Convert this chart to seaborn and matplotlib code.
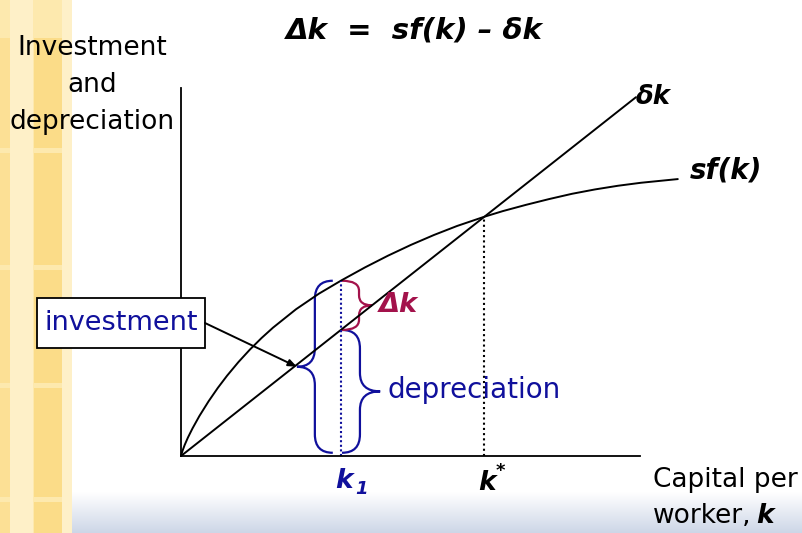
import numpy as np
import matplotlib
matplotlib.use("Agg")
import matplotlib.pyplot as plt
from matplotlib.patches import Rectangle, PathPatch
from matplotlib.path import Path
from matplotlib.colors import LinearSegmentedColormap
import seaborn as sns

# ---------------- data ----------------
k_vals = [0.0, 0.03, 0.08, 0.15, 0.25, 0.4, 0.6, 0.8, 1.0, 1.25, 1.5, 1.75,
          2.0, 2.5, 3.0, 3.5, 4.0, 4.5, 5.0, 5.5, 6.0, 6.59, 7.0, 7.5, 8.0,
          8.5, 9.0, 9.5, 10.0, 10.8]
sf_vals = [0.0, 0.105, 0.24, 0.40, 0.60, 0.87, 1.19, 1.48, 1.744, 2.044, 2.316,
           2.564, 2.79, 3.19, 3.53, 3.825, 4.10, 4.355, 4.59, 4.805, 5.00, 5.20,
           5.325, 5.46, 5.585, 5.70, 5.795, 5.875, 5.94, 6.02]
dk_k = [0.0, 9.89]
dk_y = [0.0, 7.80]
k1 = 3.48
sf_k1 = 3.81
dep_k1 = 2.74
k_star = 6.59
sf_kstar = 5.20

title_text = "Δk  =  sf(k) – δk"
ylabel_lines = ["Investment", "and", "depreciation"]
xlabel_lines = ["Capital per", "worker,"]

BLUE = "#10109c"
RED = "#a3124b"

sns.set_style("white")
plt.rcParams['font.family'] = ['DejaVu Sans']
plt.rcParams['text.color'] = 'black'

fig = plt.figure(figsize=(8.03, 5.33), dpi=100)

# ---------------- background ----------------
bg = fig.add_axes([0, 0, 1, 1], zorder=0)
cmap = LinearSegmentedColormap.from_list('g', ['#ffffff', '#cdd6e7'])
bg.imshow(np.linspace(0, 1, 60).reshape(-1, 1), extent=(72, 803, 533, 492),
          cmap=cmap, aspect='auto')
bg.add_patch(Rectangle((0, 0), 72, 533, color='#fde9ae', lw=0))
bg.add_patch(Rectangle((10, 0), 23, 533, color='#fef0c8', lw=0))
bg.add_patch(Rectangle((62, 0), 10, 533, color='#fef0c8', lw=0))
for (y0, y1) in [(38, 148), (153, 265), (270, 383), (388, 497), (502, 533)]:
    bg.add_patch(Rectangle((34, y0), 28, y1 - y0, color='#fbdc88', lw=0))
    bg.add_patch(Rectangle((0, y0), 10, y1 - y0, color='#fce095', lw=0))
bg.set_xlim(0, 803)
bg.set_ylim(533, 0)
bg.axis('off')

# ---------------- main axes ----------------
ax = fig.add_axes([181 / 803, 77 / 533, 459 / 803, 368 / 533], zorder=1)
ax.patch.set_alpha(0)
sns.lineplot(x=k_vals, y=sf_vals, ax=ax, color='black', lw=1.4,
             estimator=None, sort=False)
sns.lineplot(x=dk_k, y=dk_y, ax=ax, color='black', lw=1.4,
             estimator=None, sort=False)
for ln in ax.lines:
    ln.set_clip_on(False)
    ln.set_solid_joinstyle('round')
ax.set_xlim(0, 459 / 46)
ax.set_ylim(0, 368 / 46)
sns.despine(ax=ax)
for s in ['left', 'bottom']:
    ax.spines[s].set_color('black')
    ax.spines[s].set_linewidth(1.3)
ax.set_xticks([])
ax.set_yticks([])

# dotted verticals
ax.plot([k_star, k_star], [0, sf_kstar], color='black', lw=1.5,
        linestyle=(0, (1, 1.5)), clip_on=False)
ax.plot([k1, k1], [0, sf_k1], color=BLUE, lw=1.5,
        linestyle=(0, (1, 1.2)), clip_on=False)


def brace(axis, xe, xm, xt, y0, y1, r, color):
    ym = (y0 + y1) / 2
    verts = [(xe, y0), (xm, y0), (xm, y0 + r),
             (xm, ym - r), (xm, ym), (xt, ym),
             (xm, ym), (xm, ym + r),
             (xm, y1 - r), (xm, y1), (xe, y1)]
    codes = [Path.MOVETO, Path.CURVE3, Path.CURVE3,
             Path.LINETO, Path.CURVE3, Path.CURVE3,
             Path.CURVE3, Path.CURVE3,
             Path.LINETO, Path.CURVE3, Path.CURVE3]
    axis.add_patch(PathPatch(Path(verts, codes), fc='none', ec=color,
                             lw=1.6, clip_on=False))
    return xt, ym


base = 0.07
tip_big = brace(ax, k1 - 0.18, k1 - 0.57, k1 - 0.96, base, sf_k1, 0.40, BLUE)
brace(ax, k1 + 0.02, k1 + 0.41, k1 + 0.85, base, dep_k1, 0.40, BLUE)
brace(ax, k1 + 0.02, k1 + 0.39, k1 + 0.67, dep_k1, sf_k1, 0.22, RED)

# ---------------- overlay text ----------------
ov = fig.add_axes([0, 0, 1, 1], zorder=3)
ov.set_xlim(0, 803)
ov.set_ylim(533, 0)
ov.axis('off')
ov.patch.set_alpha(0)

ov.text(414, 30, title_text, ha='center', va='center', fontsize=21,
        fontweight='bold', fontstyle='italic')
for txt, y in zip(ylabel_lines, [48, 85, 122]):
    ov.text(92, y, txt, ha='center', va='center', fontsize=19)

ov.text(653, 480, xlabel_lines[0], ha='left', va='center', fontsize=19)
ov.text(653, 516, xlabel_lines[1], ha='left', va='center', fontsize=19)
ov.text(756, 516, "k", ha='left', va='center', fontsize=19,
        fontweight='bold', fontstyle='italic')

ov.text(636, 97, "δk", ha='left', va='center', fontsize=18.5,
        fontweight='bold', fontstyle='italic')
ov.text(690, 171, "sf(k)", ha='left', va='center', fontsize=20,
        fontweight='bold', fontstyle='italic')
ov.text(379, 305, "Δk", ha='left', va='center', fontsize=19.5,
        fontweight='bold', fontstyle='italic', color=RED)
ov.text(388, 390, "depreciation", ha='left', va='center', fontsize=20,
        color=BLUE)

ov.text(344, 481, "k", ha='center', va='center', fontsize=19,
        fontweight='bold', fontstyle='italic', color=BLUE)
ov.text(355, 489, "1", ha='left', va='center', fontsize=13,
        fontweight='bold', fontstyle='italic', color=BLUE)
ov.text(487, 483, "k", ha='center', va='center', fontsize=19,
        fontweight='bold', fontstyle='italic', color='black')
ov.text(496, 471, "*", ha='left', va='center', fontsize=13,
        fontweight='bold', color='black')

ov.add_patch(Rectangle((37, 298), 168, 50, fc='white', ec='black', lw=1.3))
ov.text(121, 323, "investment", ha='center', va='center', fontsize=19.5,
        color=BLUE)
ov.annotate('', xy=tip_big, xycoords=ax.transData, xytext=(205, 323),
            textcoords='data',
            arrowprops=dict(arrowstyle='-|>,head_length=0.5,head_width=0.2',
                            color='black', lw=1.4, shrinkA=0, shrinkB=0))

fig.savefig("out.png", dpi=100)
